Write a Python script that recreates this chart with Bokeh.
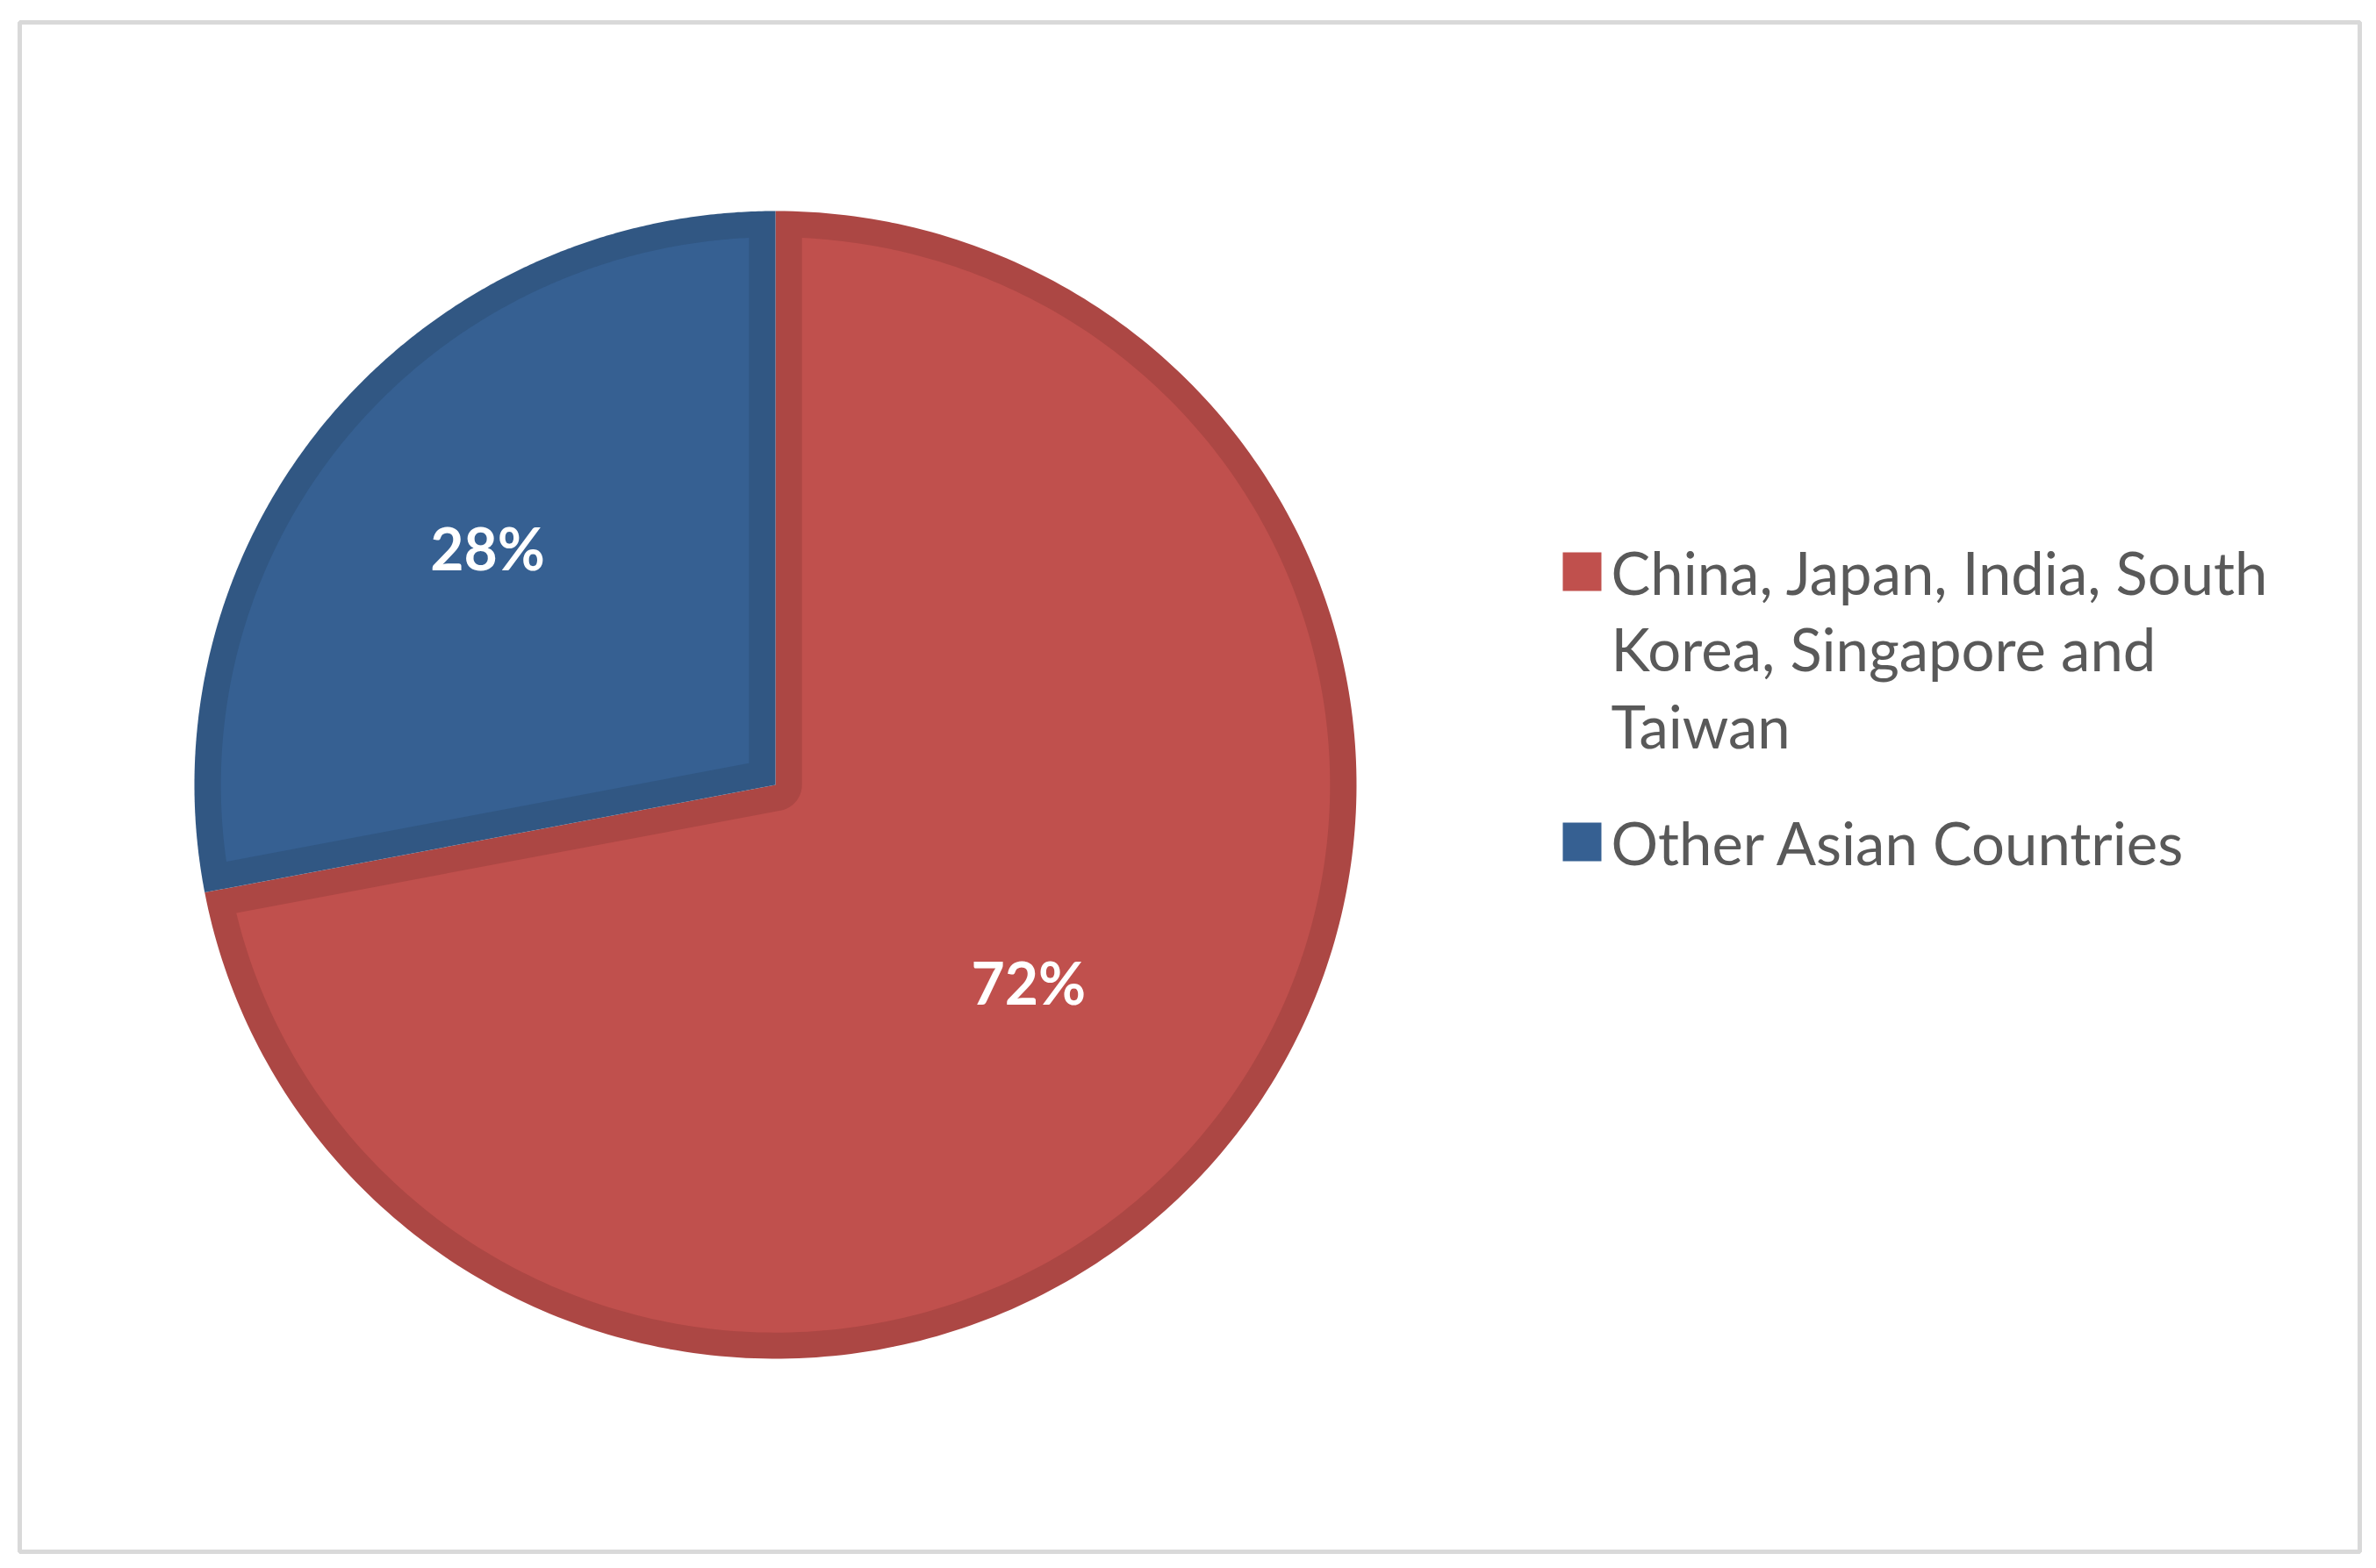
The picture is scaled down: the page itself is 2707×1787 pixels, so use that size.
import numpy as np
from bokeh.plotting import figure
from bokeh.models import Range1d
from bokeh.core.properties import value
from bokeh.embed import file_html
from bokeh.resources import INLINE

# ---- data ----
categories = ["China, Japan, India, South Korea, Singapore and Taiwan", "Other Asian Countries"]
legend_lines = [["China, Japan, India, South", "Korea, Singapore and", "Taiwan"],
                ["Other Asian Countries"]]
values = [72, 28]
pct_labels = ["72%", "28%"]

# ---- style ----
fill_colors = ["#C0504D", "#366092"]
border_colors = ["#AC4744", "#315783"]
W, H = 2699, 1779
ML, MR, MT, MB = 22, 11, 25, 11
FW, FH = W - ML - MR, H - MT - MB
CX, CY = 861, 874          # pie centre (data units = px)
RX, RY = 662, 654          # pie radii (slightly elliptical, as in reference)
R, D = 658, 30             # nominal radius, inner border thickness
label_frac = [0.555, 0.645]
label_shift_deg = [1.3, -0.2]
FONT = "Lato"

p = figure(width=W, height=H, output_backend="svg", toolbar_location=None,
           x_range=Range1d(0, FW), y_range=Range1d(0, FH),
           x_axis_location=None, y_axis_location=None,
           min_border_left=ML, min_border_right=MR, min_border_top=MT, min_border_bottom=MB)
p.grid.visible = False
p.outline_line_color = "#d9d9d9"
p.outline_line_width = 5
p.background_fill_color = "white"
p.border_fill_color = "white"

fracs = np.array(values, dtype=float) / sum(values)
starts_ccw, ends_ccw = [], []
a = np.pi / 2
for f in fracs:
    b = a - f * 2 * np.pi          # clockwise from 12 o'clock
    starts_ccw.append(b)
    ends_ccw.append(a)
    a = b

sx, sy = RX / R, RY / R


def to_data(xs, ys):
    return [CX + sx * x for x in xs], [CY + sy * y for y in ys]


def wedge_polygon(a0, a1, r, n=300):
    arc = np.linspace(a0, a1, n)
    return to_data([0.0] + list(r * np.cos(arc)), [0.0] + list(r * np.sin(arc)))


def inset_polygon(a0, a1, r, d, n=300):
    rho = r - d
    t = np.sqrt(rho ** 2 - d ** 2)
    delta = np.arctan2(d, t)
    arc = np.linspace(a0 + delta, a1 - delta, n)
    xs = list(rho * np.cos(arc))
    ys = list(rho * np.sin(arc))
    theta = a1 - a0
    if theta < np.pi:
        mid = (a0 + a1) / 2
        v = d / np.sin(theta / 2)
        xs = [v * np.cos(mid)] + xs
        ys = [v * np.sin(mid)] + ys
    else:
        small = np.linspace(a1 - np.pi / 2, a0 + np.pi / 2, 60)
        xs += list(d * np.cos(small))
        ys += list(d * np.sin(small))
    return to_data(xs, ys)


oxs, oys, ixs, iys = [], [], [], []
for s, e in zip(starts_ccw, ends_ccw):
    x1, y1 = wedge_polygon(s, e, R)
    oxs.append(x1); oys.append(y1)
    x2, y2 = inset_polygon(s, e, R, D)
    ixs.append(x2); iys.append(y2)

p.patches(oxs, oys, fill_color=border_colors, line_color=None)
p.patches(ixs, iys, fill_color=fill_colors, line_color=None)

# percentage labels
mids = [(s + e) / 2 + np.deg2rad(sh) for s, e, sh in zip(starts_ccw, ends_ccw, label_shift_deg)]
lx = [CX + fr * RX * np.cos(m) for fr, m in zip(label_frac, mids)]
ly = [CY + fr * RY * np.sin(m) for fr, m in zip(label_frac, mids)]
p.text(x=lx, y=ly, text=pct_labels, text_color="white", text_font=value(FONT),
       text_font_style="bold", text_font_size="66px", text_align="center",
       text_baseline="middle")

# legend (manual)
LEG_X = 1813
first_mid = [1117, 809]
line_step = 87.5
sq_x = 1780
sq_size = 44
tx, ty, tt = [], [], []
for lines, y0 in zip(legend_lines, first_mid):
    for i, ln in enumerate(lines):
        tx.append(LEG_X)
        ty.append(y0 - i * line_step)
        tt.append(ln)
p.rect(x=[sq_x] * len(categories), y=first_mid, width=sq_size,
       height=sq_size, fill_color=fill_colors, line_color=None)
p.text(x=tx, y=ty, text=tt, text_color="#595959", text_font=value(FONT),
       text_font_size="67px", text_align="left", text_baseline="middle")

open("out.html", "w").write(file_html(p, INLINE))
